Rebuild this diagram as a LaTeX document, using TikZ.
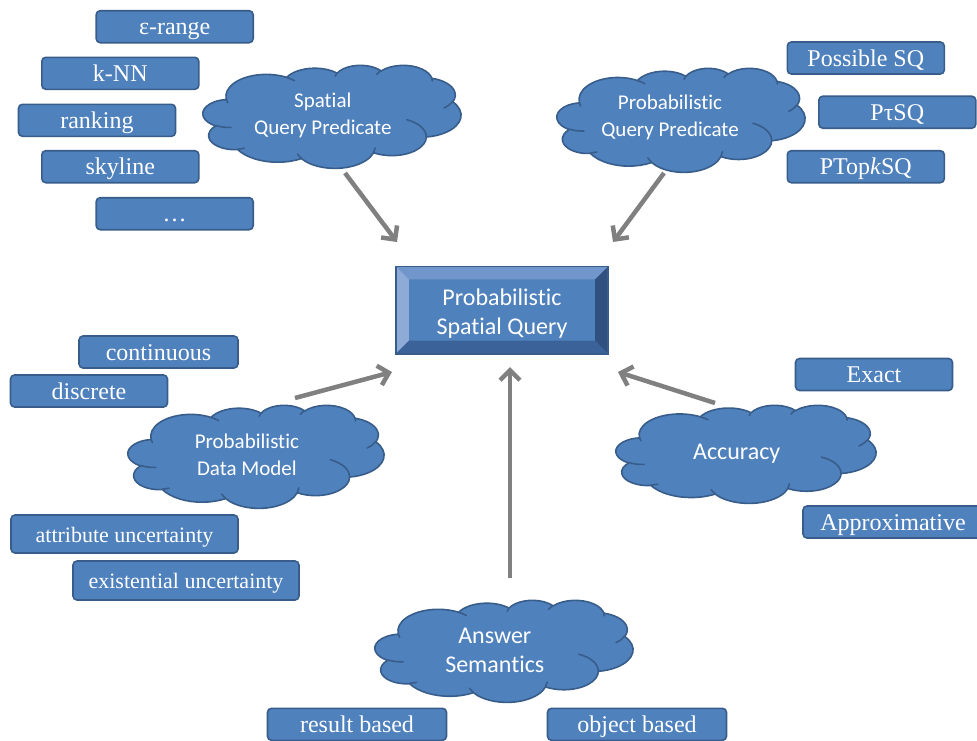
\documentclass[tikz,border=0pt]{standalone}
\usepackage{fontspec}
\setmainfont{Liberation Serif}
\newfontfamily\calibri[Ligatures=NoCommon]{Carlito}
\usetikzlibrary{arrows.meta}

\definecolor{boxfill}{HTML}{4F81BD}
\definecolor{boxline}{HTML}{385D8A}
\definecolor{arrowgray}{HTML}{808080}
\definecolor{bevtop}{HTML}{7196CB}
\definecolor{bevleft}{HTML}{8EABD7}
\definecolor{bevright}{HTML}{30507F}
\definecolor{bevbottom}{HTML}{3B6299}

\newcommand\lblfont{\fontsize{24}{28}\selectfont}
\newcommand\smlblfont{\fontsize{22}{26}\selectfont}

\tikzset{
  lbl/.style={draw=boxline, line width=1.6pt, fill=boxfill, rounded corners=4pt,
    text=white, inner sep=0pt, minimum width=157pt, minimum height=32pt,
    text height=21pt, text depth=5pt, font=\lblfont},
  cloudbody/.style={fill=boxfill, draw=boxline, line width=1.6pt, line join=round},
  cloudline/.style={draw=boxline, line width=1.6pt, line cap=round},
  cloudtext/.style={text=white, align=center, inner sep=0pt},
  arr/.style={draw=arrowgray, line width=4.5pt, -{Straight Barb[length=10pt,width=20pt]}},
  % cloud outline in a 432 x 432 frame, elliptic arcs given by visual angles
  pics/pptcloud/.style={code={
    \path[cloudbody] (39.00,143.70)
      foreach \wr/\hr/\sa/\sw
        [evaluate={\sa as \ta using atan2(\wr*sin(\sa),\hr*cos(\sa))},
         evaluate={\sa as \tb using atan2(\wr*sin(\sa+\sw),\hr*cos(\sa+\sw))},
         evaluate={\sa as \dt using mod(\tb-\ta+720,360)}]
      in {67.53/91.90/-190.48748/123.78053,
          53.33/72.67/-144.10238/89.94523,
          43.65/59.45/-145.80792/99.72302,
          48.57/65.95/-130.98607/117.24173,
          53.33/72.73/-78.70888/109.02692,
          67.75/92.20/-46.26725/130.26900,
          57.85/78.67/0.62502/114.03333,
          67.52/92.15/22.45160/115.17255,
          77.20/105.43/66.24263/75.71102,
          43.60/59.18/-274.94208/146.73557,
          43.45/59.45/-246.82850/152.51885}
      { arc[start angle=\ta, delta angle=\dt, x radius=\wr, y radius=\hr] } -- cycle;
    \path[cloudline]
      foreach \px/\py/\wr/\hr/\sa/\sw
        [evaluate={\sa as \ta using atan2(\wr*sin(\sa),\hr*cos(\sa))},
         evaluate={\sa as \tb using atan2(\wr*sin(\sa+\sw),\hr*cos(\sa+\sw))},
         evaluate={\sa as \dt using mod(\tb-\ta+720,360)}]
      in {46.93/261.77/43.45/59.45/86.74200/26.42950,
          69.28/348.99/43.60/59.18/73.61047/11.44747,
          164.78/390.90/67.52/92.15/137.62415/14.08110,
          288.27/347.51/67.52/92.15/6.45327/15.99835,
          341.29/229.54/57.85/78.67/-70.29235/70.91737,
          417.98/153.54/53.33/72.73/30.31803/27.75150,
          383.24/54.26/48.57/65.95/-13.74433/14.85890,
          290.78/39.52/48.57/65.95/-149.18145/18.19537,
          221.41/47.20/43.65/59.45/-163.49427/11.94022,
          140.00/51.92/67.53/91.90/-66.70695/12.31935,
          41.27/157.89/67.53/91.90/157.65435/11.85817}
      { (\px,\py) arc[start angle=\ta, delta angle=\dt, x radius=\wr, y radius=\hr] };
  }}
}

\begin{document}
\begin{tikzpicture}[x=1pt, y=-1pt]
\useasboundingbox (0,0) rectangle (977,740);
\clip (0,0) rectangle (977,740);

% clouds
\begin{scope}[shift={(203,65)}, x=0.5972pt, y=-0.2384pt] \pic {pptcloud}; \end{scope}
\begin{scope}[shift={(557,68)}, x=0.5741pt, y=-0.2407pt] \pic {pptcloud}; \end{scope}
\begin{scope}[shift={(128,405)}, x=0.5926pt, y=-0.2384pt] \pic {pptcloud}; \end{scope}
\begin{scope}[shift={(616,405)}, x=0.6019pt, y=-0.2269pt] \pic {pptcloud}; \end{scope}
\begin{scope}[shift={(375,600)}, x=0.5972pt, y=-0.2361pt] \pic {pptcloud}; \end{scope}

\node[cloudtext, font=\fontsize{21}{27}\selectfont\calibri] (sqp) at (322.8,115.5) {Spatial\\Query Predicate};
\node[cloudtext, font=\fontsize{21}{27}\selectfont\calibri] (pqp) at (670,117.6) {Probabilistic\\Query Predicate};
\node[cloudtext, font=\fontsize{21}{27}\selectfont\calibri] (pdm) at (246.9,455) {Probabilistic\\Data Model};
\node[cloudtext, font=\fontsize{24}{29}\selectfont\calibri] (acc) at (736.7,453.5) {Accuracy};
\node[cloudtext, font=\fontsize{24}{29}\selectfont\calibri] (ans) at (494.8,650) {Answer\\Semantics};

% central bevelled box
\node[fill=boxfill, minimum width=212pt, minimum height=87pt, inner sep=0pt] (psq) at (502,310) {};
\fill[bevtop] (psq.north west) -- (psq.north east) -- ([shift={(-13,13)}]psq.north east) -- ([shift={(13,13)}]psq.north west) -- cycle;
\fill[bevleft] (psq.north west) -- (psq.south west) -- ([shift={(13,-13)}]psq.south west) -- ([shift={(13,13)}]psq.north west) -- cycle;
\fill[bevright] (psq.north east) -- (psq.south east) -- ([shift={(-13,-13)}]psq.south east) -- ([shift={(-13,13)}]psq.north east) -- cycle;
\fill[bevbottom] (psq.south west) -- (psq.south east) -- ([shift={(-13,-13)}]psq.south east) -- ([shift={(13,-13)}]psq.south west) -- cycle;
\draw[boxline, line width=1.6pt] (psq.north west) rectangle (psq.south east);
\node[cloudtext, font=\fontsize{24}{29}\selectfont\calibri] (psqtext) at ([shift={(0,3.5)}]psq.center) {Probabilistic\\Spatial Query};

% value boxes
\node[lbl] (eps)  at (174.7,26.7)  {ε-range};
\node[lbl] (knn)  at (120.3,73.3)  {k-NN};
\node[lbl] (rank) at (97,120.3)    {ranking};
\node[lbl] (sky)  at (120.3,166.7) {skyline};
\node[lbl] (more) at (174.7,213.7) {…};

\node[lbl] (poss) at (865.8,58)    {Possible SQ};
\node[lbl] (ptau) at (897.3,112.2) {PτSQ};
\node[lbl] (ptop) at (865.8,166.7) {PTop\textit{k}SQ};

\node[lbl, minimum width=159pt] (cont) at (158.5,352) {continuous};
\node[lbl] (disc) at (89,391) {discrete};
\node[lbl, minimum width=227pt, minimum height=38pt, font=\smlblfont] (attr) at (124.5,534) {attribute uncertainty};
\node[lbl, minimum width=226pt, minimum height=39pt, font=\smlblfont] (exis) at (186,580.5) {existential uncertainty};

\node[lbl] (exact)  at (874,374.5) {Exact};
\node[lbl, minimum width=180pt] (approx) at (893,522) {Approximative};

\node[lbl, minimum width=179pt] (resb) at (357,724.3) {result based};
\node[lbl, minimum width=179pt] (objb) at (637,724.3) {object based};

% connectors
\draw[arr] ([shift={(22.2,57.5)}]sqp.center) -- ([shift={(-105,-68)}]psq.center);
\draw[arr] ([shift={(-6,55.4)}]pqp.center) -- ([shift={(111,-68)}]psq.center);
\draw[arr] ([shift={(48.1,-57)}]pdm.center) -- ([shift={(-110,62)}]psq.center);
\draw[arr] ([shift={(-21.7,-50.5)}]acc.center) -- ([shift={(116,62)}]psq.center);
\draw[arr] ([shift={(15.2,-72)}]ans.center) -- ([shift={(8,57)}]psq.center);
\end{tikzpicture}
\end{document}
